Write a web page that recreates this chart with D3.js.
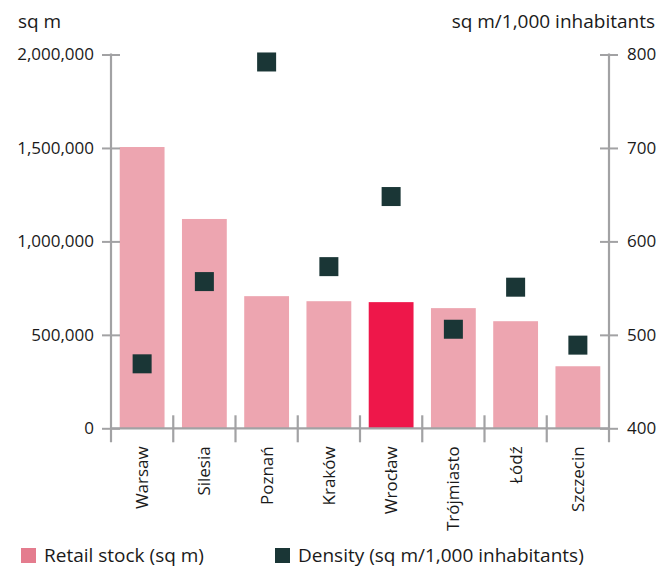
<!DOCTYPE html>
<html>
<head>
<meta charset="utf-8">
<script src="https://cdn.jsdelivr.net/npm/d3@7"></script>
<style>
  body { margin: 0; background: #fff; }
  text { font-family: "Open Sans", sans-serif; fill: #1a1a1a; }
</style>
</head>
<body>
<div id="chart"></div>
<script>
var cities = ["Warsaw", "Silesia", "Poznań", "Kraków", "Wrocław", "Trójmiasto", "Łódź", "Szczecin"];
var stock = [1505000, 1120000, 707000, 680000, 675000, 643000, 573000, 332000];
var density = [469, 557, 792, 573, 648, 506, 551, 489];
var stockTicks = [0, 500000, 1000000, 1500000, 2000000];
var densityTicks = [400, 500, 600, 700, 800];
var highlight = "Wrocław";

var width = 659, height = 568;
var margin = {top: 54.5, right: 50, bottom: 140, left: 111};

var svg = d3.select("#chart").append("svg")
    .attr("width", width)
    .attr("height", height);

var x = d3.scaleBand()
    .domain(cities)
    .range([margin.left, width - margin.right])
    .paddingInner(0.28)
    .paddingOuter(0.14);

var y = d3.scaleLinear()
    .domain([0, 2000000])
    .range([height - margin.bottom + 0.3, margin.top]);

var y2 = d3.scaleLinear()
    .domain([400, 800])
    .range([height - margin.bottom + 0.3, margin.top]);

var axisColor = "#a2a2a4";

// bars
svg.selectAll(".bar")
    .data(cities)
    .enter().append("rect")
    .attr("class", "bar")
    .attr("x", function (d) { return x(d); })
    .attr("width", x.bandwidth())
    .attr("y", function (d, i) { return y(stock[i]); })
    .attr("height", function (d, i) { return y(0) - y(stock[i]); })
    .style("fill", function (d) { return d === highlight ? "#ee174a" : "#eda5b0"; });

// left axis
var left = svg.append("g")
    .attr("transform", "translate(" + margin.left + ",0)")
    .call(d3.axisLeft(y).tickValues(stockTicks).tickFormat(d3.format(",")).tickSize(9).tickPadding(8));

// right axis
var right = svg.append("g")
    .attr("transform", "translate(" + (width - margin.right) + ",0)")
    .call(d3.axisRight(y2).tickValues(densityTicks).tickSize(9).tickPadding(9));

[left, right].forEach(function (g) {
    g.select(".domain").attr("stroke", axisColor).attr("stroke-width", 2.2)
        .attr("d", "M0," + (y(0) + 14) + "V" + (margin.top - 1));
    g.selectAll(".tick line").attr("stroke", axisColor).attr("stroke-width", 2)
        .attr("x1", -9).attr("x2", 9);
    g.selectAll(".tick text").style("font-size", "17px").style("font-family", "'Open Sans', sans-serif").attr("fill", "#1a1a1a");
});

// x axis baseline and separators
var xg = svg.append("g");
xg.append("line")
    .attr("x1", margin.left).attr("x2", width - margin.right)
    .attr("y1", y(0)).attr("y2", y(0))
    .attr("stroke", axisColor).attr("stroke-width", 2.2);

var bounds = cities.map(function (d) { return x(d) - x.step() * x.paddingInner() / 2; });
bounds.push(width - margin.right);
xg.selectAll(".sep")
    .data(bounds.slice(1, -1))
    .enter().append("line")
    .attr("x1", function (d) { return d; })
    .attr("x2", function (d) { return d; })
    .attr("y1", y(0) - 13)
    .attr("y2", y(0) + 14)
    .attr("stroke", axisColor)
    .attr("stroke-width", 2.2);

xg.selectAll(".xlabel")
    .data(cities)
    .enter().append("text")
    .attr("transform", function (d) {
        return "translate(" + (x(d) + x.bandwidth() / 2 + 6) + "," + (y(0) + 18) + ") rotate(-90)";
    })
    .style("text-anchor", "end")
    .style("font-size", "17px")
    .text(function (d) { return d; });

// density squares
var sq = 19;
svg.selectAll(".dens")
    .data(cities)
    .enter().append("rect")
    .attr("class", "dens")
    .attr("x", function (d) { return x(d) + x.bandwidth() / 2 - sq / 2; })
    .attr("y", function (d, i) { return y2(density[i]) - sq / 2; })
    .attr("width", sq)
    .attr("height", sq)
    .style("fill", "#1a3636");

// axis titles
svg.append("text")
    .attr("x", 18).attr("y", 28)
    .style("font-size", "19px")
    .text("sq m");

svg.append("text")
    .attr("x", 655).attr("y", 28)
    .style("text-anchor", "end")
    .style("font-size", "19px")
    .text("sq m/1,000 inhabitants");

// legend
var legendItems = [
    {label: "Retail stock (sq m)", color: "#e47c8e", x: 21},
    {label: "Density (sq m/1,000 inhabitants)", color: "#1a3636", x: 275}
];
var legend = svg.selectAll(".legend")
    .data(legendItems)
    .enter().append("g")
    .attr("class", "legend")
    .attr("transform", function (d) { return "translate(" + d.x + ",548)"; });

legend.append("rect")
    .attr("width", 15)
    .attr("height", 15)
    .style("fill", function (d) { return d.color; });

legend.append("text")
    .attr("x", 23)
    .attr("y", 14)
    .style("font-size", "19px")
    .text(function (d) { return d.label; });
</script>
</body>
</html>
